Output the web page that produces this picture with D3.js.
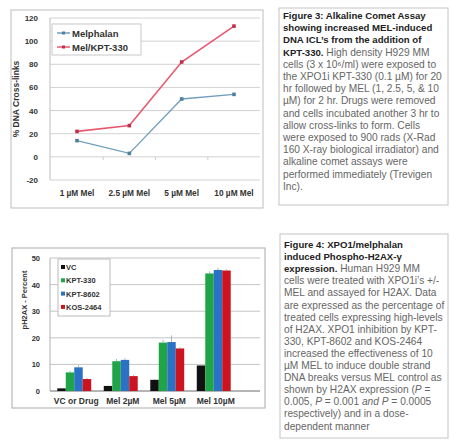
<!DOCTYPE html>
<html>
<head>
<meta charset="utf-8">
<script src="https://cdn.jsdelivr.net/npm/d3@7"></script>
<style>
  html, body { margin: 0; padding: 0; background: #fff; }
  svg { display: block; font-family: "Liberation Sans", Arial, sans-serif; }
</style>
</head>
<body>
<svg id="fig" width="450" height="442"></svg>
<script>
// ---- Figure 3 data: % DNA cross-links ----
const doseLabels = ["1 \u00b5M Mel", "2.5 \u00b5M Mel", "5 \u00b5M Mel", "10 \u00b5M Mel"];
const melphalan = [14, 3, 50, 54];
const melKpt = [22, 27, 82, 113];
const crossTicks = [-20, 0, 20, 40, 60, 80, 100, 120];

// ---- Figure 4 data: pH2AX percent ----
const groupLabels = ["VC or Drug", "Mel 2\u00b5M", "Mel 5\u00b5M", "Mel 10\u00b5M"];
const seriesNames = ["VC", "KPT-330", "KPT-8602", "KOS-2464"];
const vcVals = [1, 1.9, 4.2, 9.6];
const kpt330Vals = [7, 11.2, 18.2, 44.2];
const kpt8602Vals = [8.9, 11.7, 18.4, 45.5];
const kos2464Vals = [4.5, 5.6, 16, 45.3];
const vcErr = [0.2, 0.2, 0.3, 0.3];
const kpt330Err = [0.6, 0.8, 1.0, 0.8];
const kpt8602Err = [0.8, 0.6, 2.5, 0.8];
const kos2464Err = [0.4, 0.4, 0.5, 0.5];
const h2axTicks = [0, 10, 20, 30, 40, 50];

const svg = d3.select("#fig");

// ================= Figure 3 chart =================
const fig3 = svg.append("g");
fig3.append("rect").attr("x", 11).attr("y", 10).attr("width", 252).attr("height", 198)
  .attr("fill", "#fff").attr("stroke", "#c8c8c8").attr("stroke-width", 1.2);

const yTop = d3.scaleLinear().domain([-20, 120]).range([180, 18]);
const xTop = d3.scalePoint().domain(doseLabels).range([77, 234]);
const plotL = 50, plotR = 260;

fig3.append("g").selectAll("line").data(crossTicks).join("line")
  .attr("x1", plotL).attr("x2", plotR)
  .attr("y1", d => yTop(d)).attr("y2", d => yTop(d))
  .attr("stroke", "#d2d2d2").attr("stroke-width", 1);

fig3.append("line").attr("x1", plotL).attr("x2", plotL)
  .attr("y1", yTop(120)).attr("y2", yTop(-20)).attr("stroke", "#bdbdbd");

// category tick marks along the zero line
const stepTop = xTop.step();
fig3.append("g").selectAll("line").data([1, 2, 3]).join("line")
  .attr("x1", i => xTop(doseLabels[0]) - stepTop / 2 + i * stepTop)
  .attr("x2", i => xTop(doseLabels[0]) - stepTop / 2 + i * stepTop)
  .attr("y1", yTop(0)).attr("y2", yTop(0) + 3).attr("stroke", "#c8c8c8");

fig3.append("g").selectAll("text").data(crossTicks).join("text")
  .attr("x", 38).attr("y", d => yTop(d) + 3)
  .attr("text-anchor", "end").attr("font-size", 8).attr("font-weight", "bold")
  .attr("fill", "#333").text(d => d);

fig3.append("g").selectAll("text").data(doseLabels).join("text")
  .attr("x", d => xTop(d)).attr("y", 196)
  .attr("text-anchor", "middle").attr("font-size", 8.3).attr("font-weight", "bold")
  .attr("fill", "#333").text(d => d);

fig3.append("text").attr("transform", "translate(19,99) rotate(-90)")
  .attr("text-anchor", "middle").attr("font-size", 8.5).attr("font-weight", "bold")
  .attr("fill", "#333").text("% DNA Cross-links");

const lineGen = d3.line().x((d, i) => xTop(doseLabels[i])).y(d => yTop(d));
const lineSeries = [
  { name: "Melphalan", values: melphalan, color: "#6f9fbd", mark: "#4f7f9a", w: 1.3 },
  { name: "Mel/KPT-330", values: melKpt, color: "#e8586f", mark: "#c0304a", w: 1.6 }
];
lineSeries.forEach(s => {
  fig3.append("path").datum(s.values).attr("d", lineGen)
    .attr("fill", "none").attr("stroke", s.color).attr("stroke-width", s.w);
  fig3.append("g").selectAll("rect").data(s.values).join("rect")
    .attr("x", (d, i) => xTop(doseLabels[i]) - 1.8).attr("y", d => yTop(d) - 1.8)
    .attr("width", 3.6).attr("height", 3.6).attr("fill", s.mark);
});

// legend
fig3.append("rect").attr("x", 52).attr("y", 24).attr("width", 89).attr("height", 31)
  .attr("fill", "#fff").attr("stroke", "#c8c8c8");
lineSeries.forEach((s, i) => {
  const ly = 33 + i * 14;
  fig3.append("line").attr("x1", 57).attr("x2", 70).attr("y1", ly).attr("y2", ly)
    .attr("stroke", s.color).attr("stroke-width", 1.5);
  fig3.append("rect").attr("x", 62).attr("y", ly - 1.5).attr("width", 3).attr("height", 3).attr("fill", s.mark);
  fig3.append("text").attr("x", 72).attr("y", ly + 3.5).attr("font-size", 9.5)
    .attr("font-weight", "bold").attr("fill", "#333").text(s.name);
});

// ================= Figure 4 chart =================
const fig4 = svg.append("g");
fig4.append("rect").attr("x", 12).attr("y", 248).attr("width", 253).attr("height", 160)
  .attr("fill", "#fff").attr("stroke", "#b8b8b8").attr("stroke-width", 1.2);

const yBot = d3.scaleLinear().domain([0, 50]).range([391, 258]);
const xBot = d3.scaleBand().domain(groupLabels).range([51, 237]).paddingInner(0.27).paddingOuter(0.135);
const xSub = d3.scaleBand().domain(seriesNames).range([0, xBot.bandwidth()]);
const barColors = ["#111111", "#1fa548", "#2a72c4", "#cc1420"];
const barVals = [vcVals, kpt330Vals, kpt8602Vals, kos2464Vals];
const barErrs = [vcErr, kpt330Err, kpt8602Err, kos2464Err];

fig4.append("g").selectAll("line").data(h2axTicks).join("line")
  .attr("x1", 50).attr("x2", 260)
  .attr("y1", d => yBot(d)).attr("y2", d => yBot(d))
  .attr("stroke", "#c4c4c4");
fig4.append("line").attr("x1", 50).attr("x2", 50).attr("y1", yBot(50)).attr("y2", yBot(0)).attr("stroke", "#b0b0b0");
fig4.append("line").attr("x1", 50).attr("x2", 260).attr("y1", yBot(0)).attr("y2", yBot(0)).attr("stroke", "#888");

fig4.append("g").selectAll("text").data(h2axTicks).join("text")
  .attr("x", 40).attr("y", d => yBot(d) + 3)
  .attr("text-anchor", "end").attr("font-size", 7.5).attr("font-weight", "bold")
  .attr("fill", "#333").text(d => d);

fig4.append("g").selectAll("text").data(groupLabels).join("text")
  .attr("x", d => xBot(d) + xBot.bandwidth() / 2 + 2).attr("y", 404)
  .attr("text-anchor", "middle").attr("font-size", 8.5).attr("font-weight", "bold")
  .attr("fill", "#333").text(d => d);

fig4.append("text").attr("transform", "translate(27,300) rotate(-90)")
  .attr("text-anchor", "middle").attr("font-size", 7.5).attr("font-weight", "bold")
  .attr("fill", "#333").text("pH2AX - Percent");

seriesNames.forEach((name, si) => {
  const g = fig4.append("g");
  g.selectAll("rect").data(barVals[si]).join("rect")
    .attr("x", (d, gi) => xBot(groupLabels[gi]) + xSub(name))
    .attr("y", d => yBot(d))
    .attr("width", xSub.bandwidth())
    .attr("height", d => yBot(0) - yBot(d))
    .attr("fill", barColors[si]);
  g.selectAll("line").data(barVals[si]).join("line")
    .attr("x1", (d, gi) => xBot(groupLabels[gi]) + xSub(name) + xSub.bandwidth() / 2)
    .attr("x2", (d, gi) => xBot(groupLabels[gi]) + xSub(name) + xSub.bandwidth() / 2)
    .attr("y1", d => yBot(d))
    .attr("y2", (d, gi) => yBot(d + barErrs[si][gi]))
    .attr("stroke", "#8aa").attr("stroke-width", 0.8);
});

// legend
fig4.append("rect").attr("x", 58).attr("y", 259).attr("width", 52).attr("height", 57)
  .attr("fill", "#fff").attr("stroke", "#bcbcbc");
seriesNames.forEach((name, i) => {
  const ly = 267 + i * 13.3;
  fig4.append("rect").attr("x", 61).attr("y", ly - 2).attr("width", 4).attr("height", 4).attr("fill", barColors[i]);
  fig4.append("text").attr("x", 66).attr("y", ly + 3).attr("font-size", 7.5)
    .attr("font-weight", "bold").attr("fill", "#333").text(name);
});

// ================= Caption boxes =================
function caption(x, y, w, h, firstY, lineH, lines) {
  const g = svg.append("g");
  g.append("rect").attr("x", x).attr("y", y).attr("width", w).attr("height", h)
    .attr("fill", "#fff").attr("stroke", "#c4c4c4");
  lines.forEach((parts, i) => {
    const t = g.append("text").attr("x", x + 4).attr("y", firstY + i * lineH);
    parts.forEach(p => {
      t.append("tspan").attr("font-weight", p.b ? "bold" : "normal")
        .attr("font-size", p.b ? 9.6 : 10.2)
        .attr("font-style", p.i ? "italic" : "normal")
        .attr("fill", p.b ? "#222" : "#666").text(p.t);
    });
  });
}

caption(279, 8, 169, 197, 19, 12.2, [
  [{ t: "Figure 3: Alkaline Comet Assay", b: true }],
  [{ t: "showing increased MEL-induced", b: true }],
  [{ t: "DNA ICL\u2019s from the addition of", b: true }],
  [{ t: "KPT-330.", b: true }, { t: " High density H929 MM" }],
  [{ t: "cells (3 x 10\u2076/ml) were exposed to" }],
  [{ t: "the XPO1i KPT-330 (0.1 \u00b5M) for 20" }],
  [{ t: "hr followed by MEL (1, 2.5, 5, & 10" }],
  [{ t: "\u00b5M) for 2 hr. Drugs were removed" }],
  [{ t: "and cells incubated another 3 hr to" }],
  [{ t: "allow cross-links to form.  Cells" }],
  [{ t: "were exposed to 900 rads (X-Rad" }],
  [{ t: "160 X-ray biological irradiator) and" }],
  [{ t: "alkaline comet assays were" }],
  [{ t: "performed immediately (Trevigen" }],
  [{ t: "Inc)." }]
]);

caption(280, 234, 168, 204, 248, 12.1, [
  [{ t: "Figure 4: XPO1/melphalan", b: true }],
  [{ t: "induced  Phospho-H2AX-\u03b3", b: true }],
  [{ t: "expression.", b: true }, { t: " Human H929 MM" }],
  [{ t: "cells were treated with XPO1i\u2019s +/-" }],
  [{ t: "MEL and assayed for H2AX. Data" }],
  [{ t: "are expressed as the percentage of" }],
  [{ t: "treated cells expressing high-levels" }],
  [{ t: "of H2AX. XPO1 inhibition by KPT-" }],
  [{ t: "330, KPT-8602 and KOS-2464" }],
  [{ t: "increased the effectiveness of 10" }],
  [{ t: "\u00b5M MEL to induce double strand" }],
  [{ t: "DNA breaks versus MEL control as" }],
  [{ t: "shown by H2AX expression (" }, { t: "P", i: true }, { t: " =" }],
  [{ t: "0.005, " }, { t: "P", i: true }, { t: " = 0.001  " }, { t: "and P", i: true }, { t: " = 0.0005" }],
  [{ t: "respectively) and  in a dose-" }],
  [{ t: "dependent manner" }]
]);
</script>
</body>
</html>
